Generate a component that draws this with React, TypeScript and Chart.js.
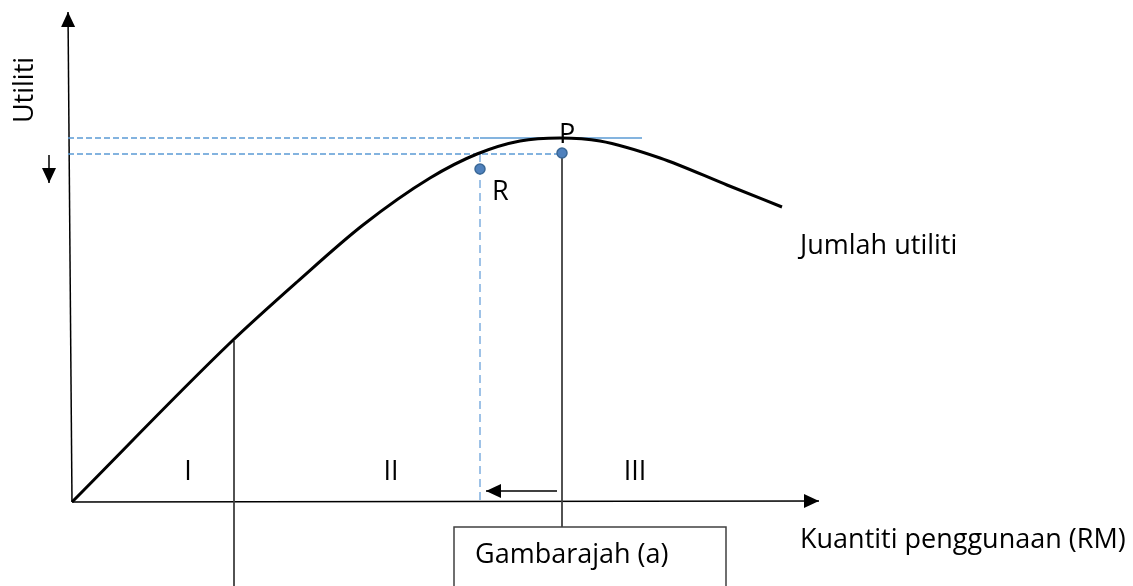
import React, { useEffect, useRef } from "react";
import { Chart, registerables } from "chart.js";

Chart.register(...registerables);

// Total utility curve (quantity, utility)
const curveX = [0, 15.8, 22.5, 29.1, 35.8, 40.5, 44.8, 48.8, 52.8, 58.8, 65.5, 71.0];
const curveY = [0, 15.9, 22.0, 27.7, 32.4, 34.8, 36.1, 36.4, 36.1, 34.4, 31.7, 29.5];

// Points P and R
const pointNames = ["P", "R"];
const pointX = [49.0, 40.8];
const pointY = [34.9, 33.3];

// Axes
const yAxisX = [0, -0.4];
const yAxisY = [0, 49.0];
const xAxisX = [0, 74.7];
const xAxisY = [0, 0.1];

// Guide lines
const upperDashX = [-0.4, 40.8];
const upperDashY = [36.4, 36.4];
const tangentX = [40.8, 57.0];
const tangentY = [36.4, 36.4];
const lowerDashX = [-0.4, 49.0];
const lowerDashY = [34.8, 34.8];
const rDropX = [40.8, 40.8];
const rDropY = [34.8, 0];
const pDropX = [49.0, 49.0];
const pDropY = [34.9, -2.5];
const stageOneX = [16.2, 16.2];
const stageOneY = [16.1, -8.4];
const boxX = [38.2, 38.2, 65.4, 65.4];
const boxY = [-8.4, -2.5, -2.5, -8.4];

// Small arrows
const downArrowX = [-2.3, -2.3];
const downArrowY = [34.7, 31.9];
const leftArrowX = [48.5, 41.4];
const leftArrowY = [1.1, 1.1];

// Text labels
const stageLabels = ["I", "II", "III"];
const stageLabelX = [11.6, 31.9, 56.3];
const stageLabelY = 2.2;
const curveTitle = "Jumlah utiliti";
const xTitle = "Kuantiti penggunaan (RM)";
const yTitle = "Utiliti";
const figureCaption = "Gambarajah (a)";

const FONT = "27px 'Open Sans', 'Noto Sans', sans-serif";

const pts = (xs: number[], ys: number[]) => xs.map((x, i) => ({ x, y: ys[i] }));

const lineDs = (xs: number[], ys: number[], color: string, width: number, dash: number[] = []) => ({
  data: pts(xs, ys),
  showLine: true,
  pointRadius: 0,
  borderColor: color,
  borderWidth: width,
  borderDash: dash,
  fill: false,
  clip: false as any,
});

export default function App() {
  const ref = useRef<HTMLCanvasElement | null>(null);

  useEffect(() => {
    document.body.style.margin = "0";
    const canvas = ref.current;
    if (!canvas) return;

    const arrowHeads = [
      { from: [yAxisX[0], yAxisY[0]], to: [yAxisX[1], yAxisY[1]] },
      { from: [xAxisX[0], xAxisY[0]], to: [xAxisX[1], xAxisY[1]] },
      { from: [downArrowX[0], downArrowY[0]], to: [downArrowX[1], downArrowY[1]] },
      { from: [leftArrowX[0], leftArrowY[0]], to: [leftArrowX[1], leftArrowY[1]] },
    ];

    const annot = {
      id: "annot",
      afterDatasetsDraw(chart: any) {
        const ctx = chart.ctx;
        const sx = chart.scales.x;
        const sy = chart.scales.y;
        const px = (v: number) => sx.getPixelForValue(v);
        const py = (v: number) => sy.getPixelForValue(v);
        ctx.save();
        // arrow heads
        ctx.fillStyle = "#000";
        arrowHeads.forEach((a) => {
          const x0 = px(a.from[0]), y0 = py(a.from[1]);
          const x1 = px(a.to[0]), y1 = py(a.to[1]);
          const ang = Math.atan2(y1 - y0, x1 - x0);
          const len = 15, hw = 7;
          ctx.beginPath();
          ctx.moveTo(x1, y1);
          ctx.lineTo(x1 - len * Math.cos(ang) + hw * Math.sin(ang), y1 - len * Math.sin(ang) - hw * Math.cos(ang));
          ctx.lineTo(x1 - len * Math.cos(ang) - hw * Math.sin(ang), y1 - len * Math.sin(ang) + hw * Math.cos(ang));
          ctx.closePath();
          ctx.fill();
        });
        // texts
        ctx.fillStyle = "#000";
        ctx.font = FONT;
        ctx.textBaseline = "alphabetic";
        ctx.textAlign = "center";
        stageLabels.forEach((t, i) => ctx.fillText(t, px(stageLabelX[i]), py(stageLabelY)));
        ctx.textAlign = "left";
        ctx.fillText(pointNames[0], px(48.7), py(35.9));
        ctx.fillText(pointNames[1], px(42.0), py(30.2));
        ctx.fillText(curveTitle, px(72.8), py(24.8));
        ctx.fillText(xTitle, px(72.8), py(-4.6));
        ctx.fillText(figureCaption, px(40.3), py(-6.1));
        // rotated y title
        ctx.save();
        ctx.translate(px(-3.9), py(41.2));
        ctx.rotate(-Math.PI / 2);
        ctx.textAlign = "center";
        ctx.fillText(yTitle, 0, 0);
        ctx.restore();
        ctx.restore();
      },
    };

    const chart = new Chart(canvas, {
      type: "scatter",
      data: {
        datasets: [
          {
            data: pts(pointX, pointY),
            pointRadius: 5,
            pointBackgroundColor: "#4F81BD",
            pointBorderColor: "#3A6897",
            pointBorderWidth: 1.5,
            showLine: false,
            clip: false as any,
          },
          {
            ...lineDs(curveX, curveY, "#000000", 3),
            cubicInterpolationMode: "monotone",
          },
          lineDs(tangentX, tangentY, "#5B9BD5", 1.5),
          lineDs(upperDashX, upperDashY, "#5B9BD5", 1.5, [6, 3]),
          lineDs(lowerDashX, lowerDashY, "#5B9BD5", 1.5, [6, 3]),
          lineDs(rDropX, rDropY, "#7FAEE0", 1.5, [8, 5]),
          lineDs(pDropX, pDropY, "#404040", 1.8),
          lineDs(stageOneX, stageOneY, "#404040", 1.8),
          lineDs(boxX, boxY, "#404040", 1.5),
          lineDs(yAxisX, yAxisY, "#000000", 1.5),
          lineDs(xAxisX, xAxisY, "#000000", 1.5),
          lineDs(downArrowX, downArrowY, "#000000", 1.5),
          lineDs(leftArrowX, leftArrowY, "#000000", 1.5),
        ] as any,
      },
      options: {
        animation: false,
        responsive: true,
        maintainAspectRatio: false,
        layout: { padding: 0, autoPadding: false } as any,
        plugins: { legend: { display: false }, tooltip: { enabled: false } },
        scales: {
          x: { type: "linear", min: -7.2, max: 106.1, display: false },
          y: { type: "linear", min: -8.4, max: 50.2, display: false },
        },
      },
      plugins: [annot],
    });
    return () => chart.destroy();
  }, []);

  return (
    <div style={{ width: 1133, height: 586, position: "relative", background: "#fff" }}>
      <canvas ref={ref} style={{ display: "block" }} />
    </div>
  );
}
